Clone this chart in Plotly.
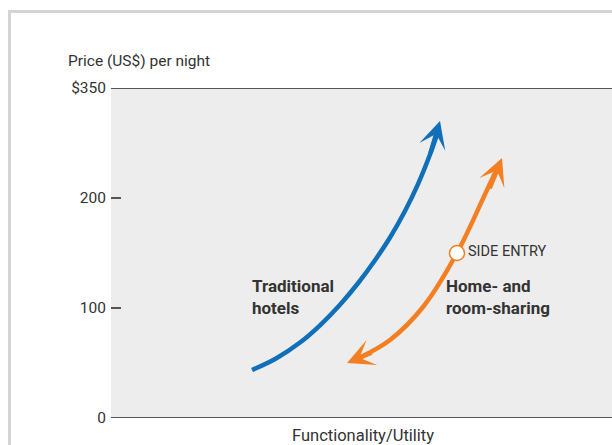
import plotly.graph_objects as go

# ---- data (x: functionality/utility units, y: price per night in US$ axis units) ----
hotels_x = [141, 165, 189, 209, 229, 247, 264, 279, 294, 307, 319, 326]
hotels_y = [43.6, 54.1, 68.6, 84.3, 103.0, 122.5, 143.4, 164.1, 188.2, 212.6, 239.5, 257.7]
hotels_tip = (329, 270)
hotels_tail = (319, 239.5)

sharing_x = [249, 279, 312, 346, 376, 384]
sharing_y = [55.0, 70.9, 100.9, 150.0, 207.3, 222.7]
sharing_tip_low = (236, 50)
sharing_tail_low = (262, 60)
sharing_tip_high = (391, 236.4)
sharing_tail_high = (378, 207.3)

side_entry = (346, 150)

y_tickvals = [0, 100, 200, 300]
y_ticktext = ["0", "100", "200", "$350"]

BLUE = "#0f6fb8"
ORANGE = "#f47f22"
TEXT = "#333333"
AXIS = "#555555"
FONT = "Roboto"

fig = go.Figure()

fig.add_trace(go.Scatter(x=hotels_x, y=hotels_y, mode="lines",
                         line=dict(color=BLUE, width=4.5, shape="spline", smoothing=1.0),
                         hoverinfo="skip", showlegend=False))
fig.add_trace(go.Scatter(x=sharing_x, y=sharing_y, mode="lines",
                         line=dict(color=ORANGE, width=4.5, shape="spline", smoothing=1.0),
                         hoverinfo="skip", showlegend=False))
fig.add_trace(go.Scatter(x=[side_entry[0]], y=[side_entry[1]], mode="markers",
                         marker=dict(size=15, color="white", line=dict(color=ORANGE, width=1.5)),
                         hoverinfo="skip", showlegend=False))

arrow_common = dict(xref="x", yref="y", axref="x", ayref="y", text="", showarrow=True,
                    arrowhead=3, arrowwidth=4.5, arrowsize=1.0)
fig.add_annotation(x=hotels_tip[0], y=hotels_tip[1], ax=hotels_tail[0], ay=hotels_tail[1],
                   arrowcolor=BLUE, **arrow_common)
fig.add_annotation(x=sharing_tip_high[0], y=sharing_tip_high[1], ax=sharing_tail_high[0],
                   ay=sharing_tail_high[1], arrowcolor=ORANGE, **arrow_common)
fig.add_annotation(x=sharing_tip_low[0], y=sharing_tip_low[1], ax=sharing_tail_low[0],
                   ay=sharing_tail_low[1], arrowcolor=ORANGE, **arrow_common)

# labels
fig.add_annotation(x=139, y=110, xref="x", yref="y", text="<b>Traditional<br>hotels</b>",
                   showarrow=False, xanchor="left", yanchor="middle", align="left",
                   font=dict(family=FONT, size=17, color=TEXT))
fig.add_annotation(x=333, y=110, xref="x", yref="y", text="<b>Home- and<br>room-sharing</b>",
                   showarrow=False, xanchor="left", yanchor="middle", align="left",
                   font=dict(family=FONT, size=17, color=TEXT))
fig.add_annotation(x=side_entry[0] + 9, y=side_entry[1] + 1, xref="x", yref="y", text="SIDE ENTRY",
                   showarrow=False, xanchor="left", yanchor="middle",
                   font=dict(family=FONT, size=14.5, color=TEXT))

# axis titles
fig.add_annotation(x=(66 - 111) / 501, y=(418 - 61) / 330, xref="paper", yref="paper",
                   text="Price (US$) per night", showarrow=False, xanchor="left", yanchor="middle",
                   font=dict(family=FONT, size=15.5, color=TEXT))
fig.add_annotation(x=(363 - 111) / 501, y=(418 - 435) / 330, xref="paper", yref="paper",
                   text="Functionality/Utility", showarrow=False, xanchor="center", yanchor="middle",
                   font=dict(family=FONT, size=16.5, color=TEXT))

# frame and axis lines
fig.add_shape(type="rect", xref="paper", yref="paper",
              x0=(9.5 - 111) / 501, x1=1.1, y0=-0.3, y1=(418 - 11.5) / 330,
              line=dict(color="#d4d4d4", width=3), layer="below")
fig.add_shape(type="line", xref="paper", yref="y", x0=0, x1=1, y0=300, y1=300,
              line=dict(color=AXIS, width=2))
fig.add_shape(type="line", xref="paper", yref="y", x0=0, x1=1, y0=0, y1=0,
              line=dict(color=AXIS, width=2))

fig.update_xaxes(range=[0, 501], visible=False, fixedrange=True)
fig.update_yaxes(range=[0, 300], tickvals=y_tickvals, ticktext=y_ticktext,
                 ticks="inside", ticklen=10, tickwidth=1.5, tickcolor=AXIS,
                 showgrid=False, zeroline=False, showline=False, fixedrange=True,
                 ticklabelstandoff=4,
                 tickfont=dict(family=FONT, size=15.5, color=TEXT))

fig.update_layout(width=612, height=445,
                  margin=dict(l=111, r=0, t=88, b=27),
                  plot_bgcolor="#ededed", paper_bgcolor="white",
                  showlegend=False)

fig.write_html("out.html", config={"displayModeBar": False})
